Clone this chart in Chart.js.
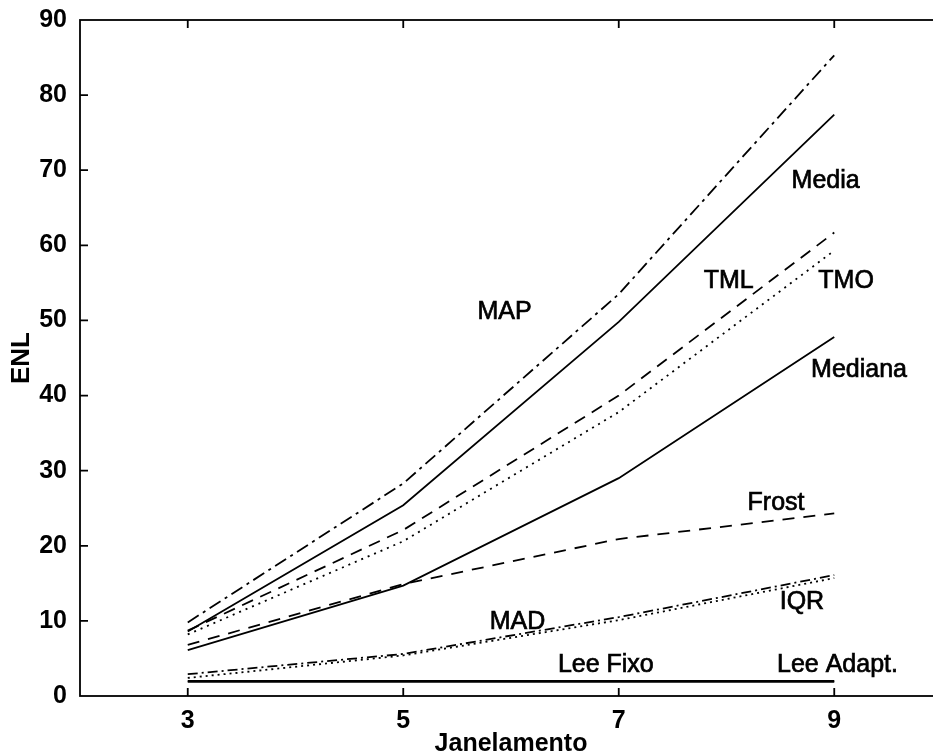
<!DOCTYPE html>
<html>
<head>
<meta charset="utf-8">
<script src="https://cdn.jsdelivr.net/npm/chart.js@4"></script>
<style>
  html, body { margin: 0; padding: 0; background: #fff; overflow: hidden; }
  #wrap { width: 960px; height: 755px; }
</style>
</head>
<body>
<div id="wrap"><canvas id="enlChart" width="960" height="755"></canvas></div>
<script>
// Janelamento (tamanho da janela) e ENL de cada filtro
const janelas = [3, 5, 7, 9];
const xTicks = [3, 5, 7, 9];

const enlMAP = [9.8, 28.3, 53.5, 85.3];
const enlMedia = [8.6, 25.4, 49.8, 77.4];
const enlTML = [8.7, 22.1, 40.0, 61.7];
const enlTMO = [8.2, 20.6, 37.8, 59.3];
const enlMediana = [6.1, 14.7, 29.0, 47.8];
const enlFrost = [6.8, 14.9, 20.9, 24.3];
const enlIQR = [2.9, 5.6, 10.5, 16.1];
const enlMAD = [2.4, 5.4, 10.1, 15.7];
const enlLeeFixo = [2.0, 2.0, 2.0, 2.0];
const enlLeeAdapt = [1.9, 1.9, 1.9, 1.9];

// rotulos escritos sobre o grafico (texto, x, y em unidades dos eixos)
const rotulos = [
    ['MAP', 5.94, 51.1],
    ['Media', 8.92, 68.6],
    ['TML', 8.02, 55.3],
    ['TMO', 9.11, 55.3],
    ['Mediana', 9.23, 43.4],
    ['Frost', 8.46, 25.7],
    ['IQR', 8.70, 12.5],
    ['MAD', 6.06, 9.8],
    ['Lee Fixo', 6.88, 4.1],
    ['Lee Adapt.', 9.03, 4.1]
];

function serie(label, valores, dash) {
    return {
        label: label,
        data: janelas.map((x, i) => ({ x: x, y: valores[i] })),
        borderColor: '#000',
        borderWidth: 1.8,
        borderDash: dash,
        pointRadius: 0,
        fill: false,
        tension: 0
    };
}

const fonte = 'Liberation Sans, Arial, Helvetica, sans-serif';

// moldura estilo MATLAB com marcas para dentro + rotulos
const molduraPlugin = {
    id: 'moldura',
    afterDraw(chart) {
        const ctx = chart.ctx;
        const a = chart.chartArea;
        const xs = chart.scales.x, ys = chart.scales.y;
        ctx.save();
        ctx.strokeStyle = '#000';
        ctx.lineWidth = 1.8;
        ctx.strokeRect(a.left, a.top, a.right - a.left, a.bottom - a.top);
        ctx.beginPath();
        xTicks.forEach(v => {
            const px = xs.getPixelForValue(v);
            ctx.moveTo(px, a.bottom); ctx.lineTo(px, a.bottom - 8);
            ctx.moveTo(px, a.top); ctx.lineTo(px, a.top + 8);
        });
        for (let v = 10; v < 90; v += 10) {
            const py = ys.getPixelForValue(v);
            ctx.moveTo(a.left, py); ctx.lineTo(a.left + 8, py);
            ctx.moveTo(a.right, py); ctx.lineTo(a.right - 8, py);
        }
        ctx.stroke();

        ctx.fillStyle = '#000';
        ctx.lineWidth = 0.7;
        ctx.font = '25px ' + fonte;
        ctx.textAlign = 'center';
        ctx.textBaseline = 'middle';
        rotulos.forEach(r => {
            const px = xs.getPixelForValue(r[1]), py = ys.getPixelForValue(r[2]);
            ctx.fillText(r[0], px, py);
            ctx.strokeText(r[0], px, py);
        });
        ctx.restore();
    }
};

const ctxEnl = document.getElementById('enlChart').getContext('2d');
const enlChart = new Chart(ctxEnl, {
    type: 'line',
    data: {
        datasets: [
            serie('MAP', enlMAP, [13, 5, 3, 5]),
            serie('Media', enlMedia, []),
            serie('TML', enlTML, [12, 8]),
            serie('TMO', enlTMO, [2, 5]),
            serie('Mediana', enlMediana, []),
            serie('Frost', enlFrost, [12, 9]),
            serie('IQR', enlIQR, [10, 4, 2, 4]),
            serie('MAD', enlMAD, [2, 4]),
            serie('Lee Fixo', enlLeeFixo, []),
            serie('Lee Adapt.', enlLeeAdapt, [])
        ]
    },
    options: {
        responsive: false,
        animation: false,
        layout: { padding: { top: 20, right: 18, left: 0, bottom: 0 } },
        plugins: { legend: { display: false }, tooltip: { enabled: false } },
        scales: {
            x: {
                type: 'linear',
                min: 2,
                max: 10,
                grid: { display: false },
                border: { display: false },
                afterBuildTicks: scale => { scale.ticks = xTicks.map(v => ({ value: v })); },
                afterFit: scale => { scale.height = 59; },
                ticks: {
                    color: '#000',
                    padding: 2,
                    maxRotation: 0,
                    font: { family: fonte, size: 25, weight: 'bold' }
                },
                title: {
                    display: true,
                    text: 'Janelamento',
                    color: '#000',
                    padding: { top: 0, bottom: 0 },
                    font: { family: fonte, size: 25, weight: 'bold', lineHeight: 0.9 }
                }
            },
            y: {
                min: 0,
                max: 90,
                grid: { display: false },
                border: { display: false },
                afterFit: scale => { scale.width = 80; },
                ticks: {
                    stepSize: 10,
                    color: '#000',
                    padding: 5,
                    font: { family: fonte, size: 25, weight: 'bold' }
                },
                title: {
                    display: true,
                    text: 'ENL',
                    color: '#000',
                    padding: { top: 6, bottom: 0 },
                    font: { family: fonte, size: 26, weight: 'bold' }
                }
            }
        }
    },
    plugins: [molduraPlugin]
});
</script>
</body>
</html>
